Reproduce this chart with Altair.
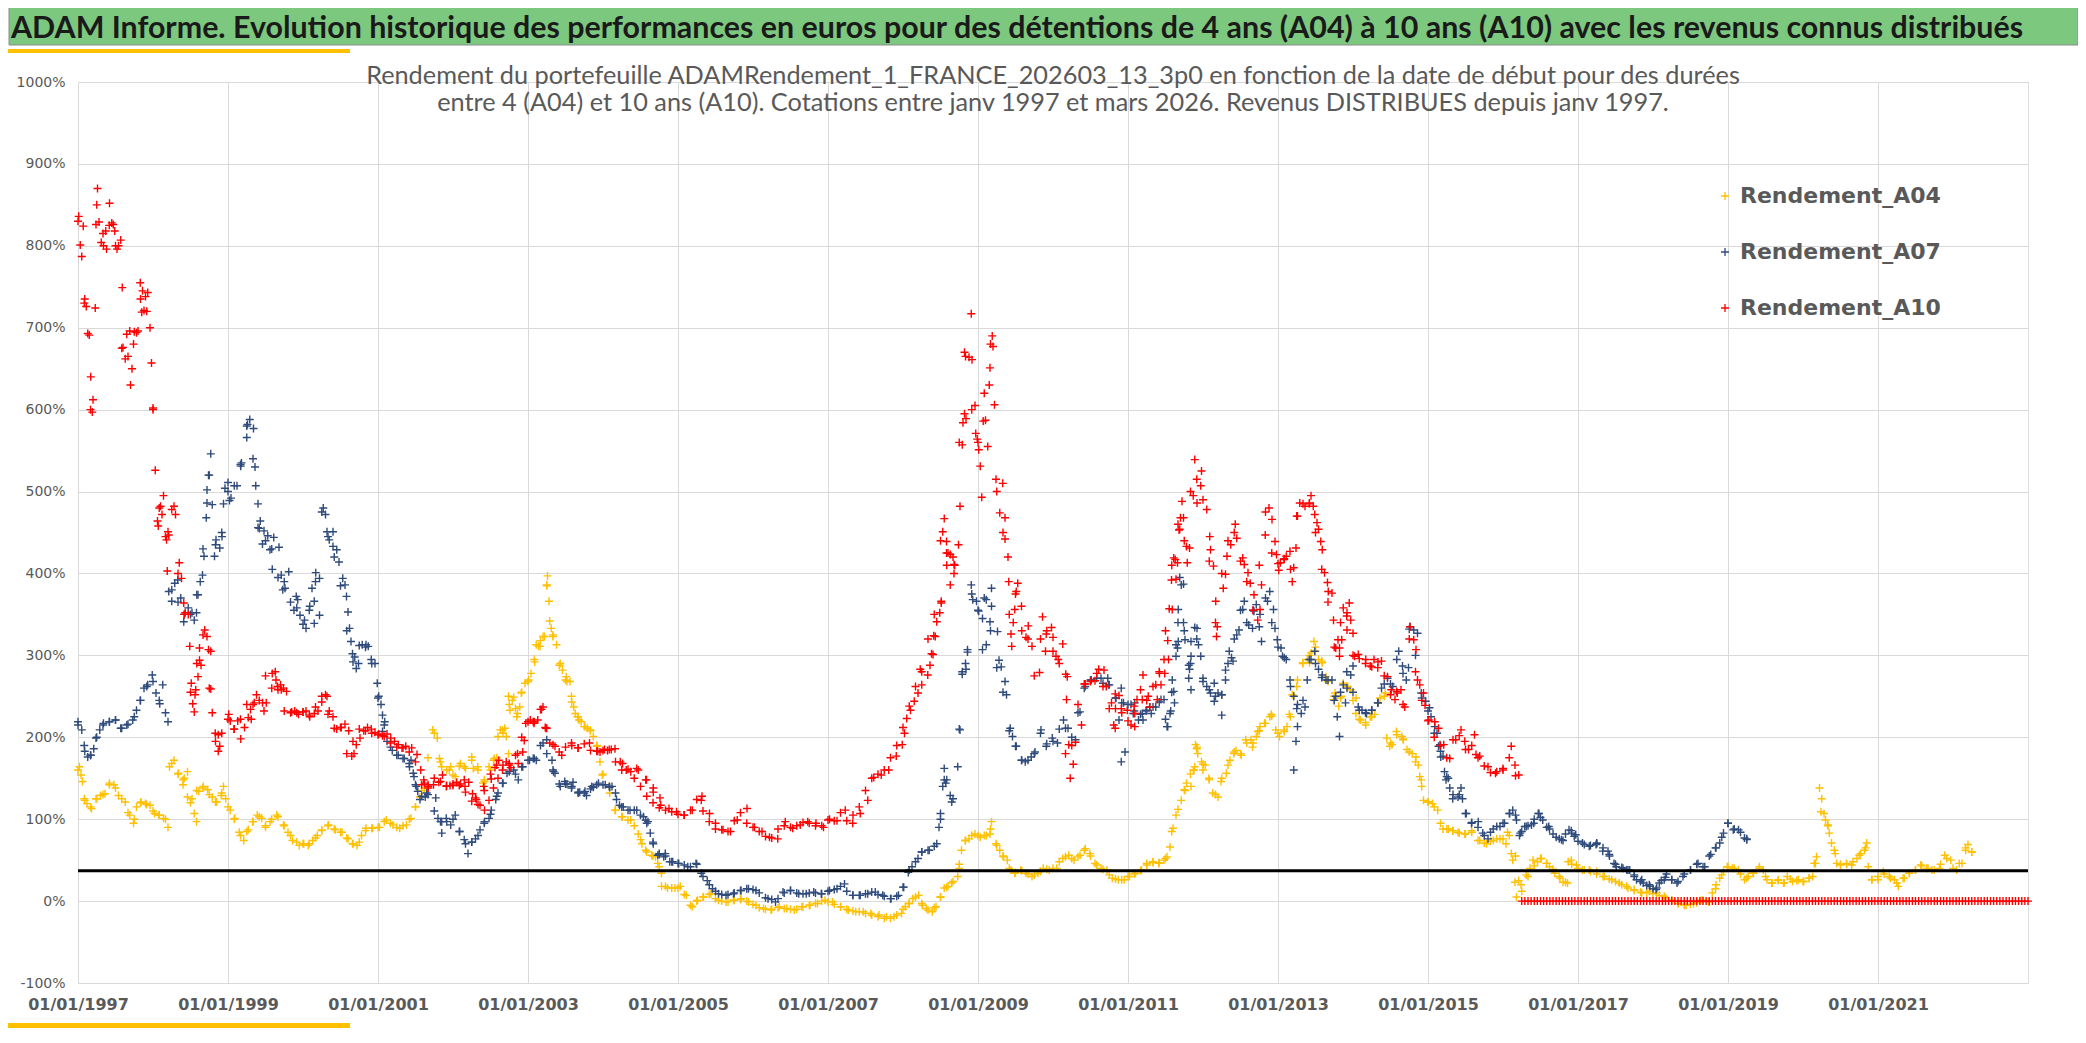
import altair as alt
import pandas as pd

# ---------------- data (values in %) ----------------
SERIES = ["Rendement_A04", "Rendement_A07", "Rendement_A10"]
COLORS = ["#FFC000", "#2F4B7C", "#FF0000"]
START_YEAR = 1997

# one value per month from Jan 1997
a04_vals = [
    160, 125, 115, 125, 130, 142, 138, 125, 108, 100, 120, 118,   # 1997
    110, 105, 100, 168, 155, 150, 120, 135, 138, 130, 121, 132,   # 1998
    115, 100, 80, 85, 97, 103, 92, 100, 103, 92, 80, 72,          # 1999
    70, 70, 77, 86, 92, 88, 84, 77, 70, 72, 86, 89,               # 2000
    90, 97, 95, 90, 92, 100, 115, 135, 175, 205, 170, 160,        # 2001
    154, 165, 162, 172, 160, 148, 160, 175, 205, 240, 235, 255,   # 2002
    268, 295, 318, 385, 325, 288, 270, 243, 225, 213, 208, 190,   # 2003
    155, 140, 111, 103, 99, 92, 75, 60, 55, 42, 18, 16,           # 2004
    16, 8, -5, 0, 5, 8, 3, 0, -1, 1, 2, 0,                        # 2005
    -4, -8, -10, -10, -8, -9, -10, -10, -7, -5, -3, 0,            # 2006
    -1, -4, -7, -10, -12, -13, -15, -17, -19, -21, -21, -17,      # 2007
    -10, -3, 5, -3, -11, -8, 5, 17, 24, 45, 74, 80,               # 2008
    80, 80, 88, 68, 55, 40, 35, 37, 33, 32, 36, 39,               # 2009
    40, 48, 54, 52, 54, 62, 55, 44, 39, 32, 27, 26,               # 2010
    30, 33, 37, 44, 47, 47, 52, 85, 112, 136, 155, 186,           # 2011
    167, 148, 130, 150, 166, 182, 180, 193, 193, 208, 217, 226,   # 2012
    205, 207, 225, 262, 290, 300, 310, 293, 268, 250, 248, 262,   # 2013
    245, 222, 218, 225, 242, 250, 193, 203, 198, 182, 170, 140,   # 2014
    121, 115, 95, 88, 86, 83, 82, 84, 74, 71, 73, 76,             # 2015
    76, 80, 55, 12, 30, 43, 52, 46, 39, 30, 23, 45,               # 2016
    40, 38, 36, 33, 30, 27, 24, 20, 16, 13, 11, 10,               # 2017
    9, 7, 4, 1, -3, -5, -4, -2, 1, -1, 15, 32,                    # 2018
    42, 40, 33, 28, 34, 40, 30, 22, 25, 22, 27, 25,               # 2019
    24, 28, 46, 125, 92, 62, 45, 45, 48, 56, 65, 26,              # 2020
    30, 33, 28, 22, 28, 34, 38, 43, 40, 38, 45, 52,               # 2021
    40, 46, 65, 60,                                               # 2022
]
a07_vals = [
    215, 190, 178, 200, 215, 219, 221, 211, 216, 225, 245, 262,   # 1997
    268, 245, 230, 380, 365, 350, 350, 374, 430, 520, 435, 450,   # 1998
    500, 507, 533, 580, 540, 455, 440, 430, 395, 390, 365, 358,   # 1999
    338, 355, 390, 475, 445, 420, 385, 330, 292, 312, 310, 290,   # 2000
    248, 215, 188, 178, 174, 168, 142, 128, 130, 110, 97, 97,     # 2001
    100, 85, 70, 72, 80, 95, 106, 128, 144, 158, 155, 164,        # 2002
    172, 174, 190, 180, 160, 143, 143, 140, 133, 132, 137, 142,   # 2003
    142, 140, 132, 115, 111, 111, 105, 95, 72, 57, 55, 48,        # 2004
    46, 44, 42, 45, 30, 20, 12, 8, 8, 10, 13, 15,                 # 2005
    14, 10, 4, 2, 3, 10, 13, 10, 9, 10, 10, 9,                    # 2006
    12, 14, 18, 12, 7, 7, 9, 11, 8, 6, 3, 6,                      # 2007
    17, 38, 48, 60, 62, 67, 100, 148, 125, 210, 290, 375,         # 2008
    355, 370, 330, 285, 255, 208, 189, 172, 172, 180, 205, 192,   # 2009
    195, 210, 211, 200, 230, 260, 270, 272, 266, 264, 248, 242,   # 2010
    240, 232, 228, 233, 237, 243, 222, 255, 340, 330, 290, 320,   # 2011
    268, 258, 250, 252, 290, 320, 355, 340, 355, 335, 370, 340,   # 2012
    310, 297, 262, 235, 245, 295, 290, 273, 270, 245, 255, 280,   # 2013
    255, 233, 230, 233, 242, 265, 265, 295, 278, 332, 300, 248,   # 2014
    232, 205, 183, 152, 130, 130, 107, 96, 90, 80, 84, 91,        # 2015
    95, 107, 105, 85, 92, 100, 102, 90, 82, 76, 82, 83,           # 2016
    73, 69, 68, 70, 65, 57, 45, 41, 38, 30, 24, 19,               # 2017
    15, 22, 29, 26, 24, 33, 38, 45, 42, 55, 65, 78,               # 2018
    95, 88, 84, 76,                                               # 2019
]
a10_vals = [
    830, 730, 600, 850, 815, 825, 800, 675, 665, 695, 735, 720,   # 1997
    600, 480, 445, 478, 400, 350, 255, 290, 325, 260, 195, 205,   # 1998
    222, 210, 222, 240, 240, 245, 275, 260, 258, 232, 230, 230,   # 1999
    231, 227, 237, 250, 228, 211, 212, 180, 195, 210, 208, 205,   # 2000
    203, 201, 193, 188, 187, 182, 170, 142, 142, 150, 146, 141,   # 2001
    143, 141, 133, 122, 118, 135, 155, 166, 166, 168, 178, 200,   # 2002
    219, 219, 234, 211, 191, 182, 188, 190, 187, 192, 184, 183,   # 2003
    184, 185, 170, 160, 161, 150, 140, 128, 120, 114, 111, 109,   # 2004
    106, 105, 111, 124, 110, 97, 88, 87, 85, 98, 108, 95,         # 2005
    90, 85, 79, 77, 88, 92, 90, 92, 96, 95, 92, 92,               # 2006
    99, 98, 108, 98, 105, 115, 135, 150, 155, 160, 175, 190,      # 2007
    212, 238, 262, 280, 320, 350, 440, 410, 420, 560, 665, 600,   # 2008
    560, 620, 680, 500, 450, 350, 375, 330, 320, 275, 320, 330,   # 2009
    305, 290, 180, 190, 240, 265, 268, 278, 262, 235, 235, 230,   # 2010
    220, 238, 258, 245, 262, 280, 330, 410, 460, 440, 500, 515,   # 2011
    490, 415, 340, 400, 440, 450, 415, 390, 355, 410, 475, 425,   # 2012
    412, 418, 405, 470, 485, 485, 450, 405, 365, 310, 340, 348,   # 2013
    300, 296, 290, 286, 292, 275, 252, 256, 240, 320, 280, 245,   # 2014
    220, 200, 190, 175, 197, 202, 185, 190, 175, 165, 157, 158,   # 2015
    162, 175, 153,                                                # 2016 (Jan-Mar)
]
# A10 after March 2016: a continuous run of 0 % markers, every half month up to Dec 2022
A10_ZERO_START = 2016.25
A10_ZERO_STEP = 1 / 24
a10_zero_vals = [
    0, 0, 0, 0, 0, 0, 0, 0, 0, 0, 0, 0, 0, 0, 0, 0, 0, 0,                           # 2016
    0, 0, 0, 0, 0, 0, 0, 0, 0, 0, 0, 0, 0, 0, 0, 0, 0, 0, 0, 0, 0, 0, 0, 0,         # 2017
    0, 0, 0, 0, 0, 0, 0, 0, 0, 0, 0, 0, 0, 0, 0, 0, 0, 0, 0, 0, 0, 0, 0, 0,         # 2018
    0, 0, 0, 0, 0, 0, 0, 0, 0, 0, 0, 0, 0, 0, 0, 0, 0, 0, 0, 0, 0, 0, 0, 0,         # 2019
    0, 0, 0, 0, 0, 0, 0, 0, 0, 0, 0, 0, 0, 0, 0, 0, 0, 0, 0, 0, 0, 0, 0, 0,         # 2020
    0, 0, 0, 0, 0, 0, 0, 0, 0, 0, 0, 0, 0, 0, 0, 0, 0, 0, 0, 0, 0, 0, 0, 0,         # 2021
    0, 0, 0, 0, 0, 0, 0, 0, 0, 0, 0, 0, 0, 0, 0, 0, 0, 0, 0, 0, 0, 0, 0, 0, 0,      # 2022
]

# individual markers: (date as decimal year, value %)
a04_readings = [
    (1997.02, 164), (1997.04, 154), (1997.06, 146), (1997.09, 123), (1997.12, 119), (1997.18, 113),
    (1997.24, 125), (1997.30, 129), (1997.36, 131), (1997.42, 144), (1997.48, 142), (1997.54, 129),
    (1997.63, 121), (1997.69, 105), (1997.74, 95), (1997.78, 115), (1997.84, 121), (1997.90, 119),
    (1997.96, 117), (1998.02, 107), (1998.08, 105), (1998.14, 101), (1998.20, 90), (1998.22, 164),
    (1998.28, 172), (1998.34, 156), (1998.40, 148), (1998.46, 158), (1998.40, 142), (1998.46, 127),
    (1998.52, 125), (1998.58, 97), (1998.55, 107), (1998.61, 134), (1998.67, 140), (1998.73, 136),
    (1998.79, 127), (1998.85, 121), (1998.91, 129), (1998.94, 140), (1998.97, 125), (1999.03, 111),
    (1999.09, 101), (1999.15, 84), (1999.21, 74), (1999.27, 87), (1999.33, 97), (1999.39, 105),
    (1999.45, 101), (1999.50, 90), (1999.56, 97), (1999.65, 105), (1999.74, 93), (1999.80, 84),
    (1999.86, 74), (1999.95, 68), (2000.01, 70), (2000.07, 68), (2000.13, 74), (2000.19, 80),
    (2000.25, 87), (2000.34, 93), (2000.43, 87), (2000.52, 84), (2000.60, 76), (2000.66, 70),
    (2000.72, 68), (2000.78, 80), (2000.84, 89), (2000.93, 89), (2001.02, 90), (2001.11, 99),
    (2001.20, 93), (2001.29, 89), (2001.38, 93), (2001.44, 101), (2001.50, 115), (2001.56, 127),
    (2001.62, 138), (2001.73, 209), (2001.79, 199), (2001.82, 174), (2001.85, 164), (2001.95, 160),
    (2001.97, 164), (2002.03, 152), (2002.10, 168), (2002.15, 164), (2002.25, 176), (2002.27, 162),
    (2002.33, 164), (2002.40, 144), (2002.42, 146), (2002.48, 164), (2002.54, 172), (2002.55, 174),
    (2002.60, 201), (2002.63, 209), (2002.66, 209), (2002.69, 211), (2002.71, 201), (2002.74, 180),
    (2002.76, 233), (2002.74, 250), (2002.79, 245), (2002.81, 249), (2002.85, 225), (2002.86, 229),
    (2002.89, 237), (2002.91, 254), (2002.96, 266), (2003.01, 270), (2003.04, 278), (2003.09, 292),
    (2003.11, 313), (2003.14, 311), (2003.16, 311), (2003.20, 323), (2003.22, 323), (2003.26, 397),
    (2003.25, 386), (2003.28, 366), (2003.29, 342), (2003.31, 333), (2003.33, 323), (2003.38, 313),
    (2003.43, 290), (2003.46, 282), (2003.51, 274), (2003.52, 268), (2003.56, 268), (2003.58, 250),
    (2003.61, 237), (2003.63, 229), (2003.66, 225), (2003.68, 221), (2003.71, 219), (2003.76, 213),
    (2003.79, 211), (2003.83, 209), (2003.87, 201), (2003.92, 189), (2003.96, 170), (2003.99, 154),
    (2004.09, 132), (2004.16, 111), (2004.26, 103), (2004.37, 99), (2004.47, 82), (2004.52, 70),
    (2004.57, 62), (2004.65, 56), (2004.70, 54), (2004.73, 46), (2004.78, 34), (2004.78, 18),
    (2004.86, 16), (2004.96, 16), (2005.03, 18), (2005.11, 7), (2005.19, -7), (2005.26, 1),
    (2005.34, 5), (2005.44, 9), (2005.54, 1), (2005.64, -1), (2005.74, 1), (2005.84, 3),
    (2005.94, -1), (2006.04, -5), (2006.14, -9), (2006.24, -11), (2006.35, -7), (2006.45, -9),
    (2006.55, -11), (2006.65, -7), (2006.76, -5), (2006.86, -3), (2006.96, 1), (2007.06, -1),
    (2007.17, -7), (2007.27, -11), (2007.37, -13), (2007.47, -13), (2007.57, -15), (2007.68, -17),
    (2007.78, -19), (2007.88, -19), (2007.98, -15), (2008.03, -7), (2008.08, -3), (2008.13, 3),
    (2008.21, 7), (2008.26, -5), (2008.31, -9), (2008.39, -13), (2008.44, -7), (2008.50, 5),
    (2008.55, 16), (2008.60, 18), (2008.65, 22), (2008.73, 30), (2008.75, 40), (2008.78, 62),
    (2008.83, 74), (2008.88, 76), (2008.96, 82), (2009.03, 78), (2009.11, 80), (2009.16, 82),
    (2009.18, 97), (2009.24, 70), (2009.29, 62), (2009.34, 54), (2009.39, 50), (2009.44, 38),
    (2009.49, 34), (2009.57, 38), (2009.64, 34), (2009.72, 30), (2009.80, 34), (2009.87, 40),
    (2009.95, 38), (2010.05, 40), (2010.13, 52), (2010.21, 56), (2010.28, 50), (2010.36, 56),
    (2010.43, 64), (2010.49, 58), (2010.56, 46), (2010.64, 40), (2010.72, 38), (2010.79, 28),
    (2010.87, 26), (2010.95, 26), (2011.02, 30), (2011.10, 34), (2011.18, 38), (2011.25, 46),
    (2011.33, 48), (2011.41, 46), (2011.48, 50), (2011.52, 54), (2011.56, 66), (2011.60, 89),
    (2011.64, 105), (2011.71, 123), (2011.76, 135), (2011.78, 144), (2011.84, 140), (2011.87, 160),
    (2011.89, 164), (2011.90, 191), (2011.92, 188), (2011.93, 180), (2011.98, 170), (2012.00, 160),
    (2011.88, 160), (2012.03, 166), (2012.08, 150), (2012.13, 132), (2012.20, 127), (2012.24, 146),
    (2012.31, 156), (2012.36, 172), (2012.41, 180), (2012.44, 184), (2012.51, 178), (2012.57, 197),
    (2012.64, 197), (2012.66, 188), (2012.71, 201), (2012.73, 207), (2012.76, 213), (2012.82, 217),
    (2012.89, 225), (2012.91, 228), (2012.97, 209), (2013.02, 201), (2013.08, 209), (2013.12, 213),
    (2013.15, 228), (2013.19, 252), (2013.21, 250), (2013.26, 270), (2013.33, 291), (2013.39, 295),
    (2013.42, 291), (2013.44, 303), (2013.48, 317), (2013.50, 305), (2013.54, 295), (2013.59, 291),
    (2013.64, 274), (2013.66, 270), (2013.74, 246), (2013.76, 254), (2013.81, 238), (2013.84, 250),
    (2013.87, 266), (2013.93, 262), (2013.97, 258), (2014.04, 248), (2014.04, 229), (2014.10, 221),
    (2014.17, 215), (2014.23, 225), (2014.29, 228), (2014.36, 248), (2014.43, 254), (2014.45, 199),
    (2014.49, 189), (2014.52, 191), (2014.58, 207), (2014.65, 201), (2014.67, 197), (2014.72, 185),
    (2014.79, 180), (2014.84, 176), (2014.87, 166), (2014.89, 152), (2014.91, 148), (2014.94, 123),
    (2015.00, 121), (2015.06, 119), (2015.13, 111), (2015.20, 88), (2015.27, 88), (2015.33, 86),
    (2015.40, 84), (2015.49, 82), (2015.58, 86), (2015.69, 74), (2015.78, 70), (2015.87, 74),
    (2015.96, 76), (2016.04, 70), (2016.06, 84), (2016.11, 58), (2016.13, 50), (2016.16, 23),
    (2016.18, 5), (2016.21, 25), (2016.24, 20), (2016.31, 32), (2016.36, 40), (2016.40, 50),
    (2016.46, 48), (2016.51, 52), (2016.58, 46), (2016.62, 42), (2016.69, 34), (2016.76, 28),
    (2016.80, 23), (2016.86, 22), (2016.87, 48), (2016.91, 50), (2016.98, 44), (2017.06, 38),
    (2017.15, 38), (2017.25, 36), (2017.35, 30), (2017.45, 26), (2017.55, 22), (2017.65, 18),
    (2017.75, 14), (2017.85, 10), (2017.95, 12), (2018.05, 10), (2018.15, 6), (2018.25, 1),
    (2018.34, -3), (2018.44, -5), (2018.54, -3), (2018.64, 1), (2018.74, -1), (2018.79, 10),
    (2018.84, 20), (2018.89, 28), (2018.94, 36), (2018.99, 42), (2019.06, 40), (2019.14, 38),
    (2019.22, 26), (2019.27, 30), (2019.34, 34), (2019.42, 42), (2019.47, 38), (2019.52, 26),
    (2019.59, 22), (2019.67, 26), (2019.74, 22), (2019.79, 30), (2019.86, 24), (2019.94, 26),
    (2020.01, 24), (2020.08, 28), (2020.13, 30), (2020.15, 46), (2020.18, 54), (2020.22, 138),
    (2020.24, 109), (2020.28, 107), (2020.30, 99), (2020.33, 93), (2020.35, 83), (2020.38, 71),
    (2020.43, 58), (2020.45, 46), (2020.50, 44), (2020.58, 46), (2020.65, 44), (2020.72, 52),
    (2020.77, 58), (2020.82, 62), (2020.85, 71), (2020.87, 42), (2020.92, 26), (2021.00, 26),
    (2021.07, 36), (2021.15, 30), (2021.22, 26), (2021.27, 18), (2021.35, 28), (2021.42, 34),
    (2021.50, 38), (2021.57, 44), (2021.65, 40), (2021.72, 38), (2021.82, 40), (2021.89, 56),
    (2021.97, 50), (2022.05, 38), (2022.12, 46), (2022.17, 62), (2022.20, 69), (2022.25, 60),
]
a07_readings = [
    (1997.00, 219), (1997.05, 209), (1997.09, 183), (1997.13, 176), (1997.17, 178), (1997.21, 186),
    (1997.24, 199), (1997.29, 209), (1997.34, 217), (1997.42, 219), (1997.50, 221), (1997.57, 211),
    (1997.65, 215), (1997.73, 221), (1997.78, 233), (1997.83, 245), (1997.88, 260), (1997.93, 264),
    (1997.99, 276), (1998.04, 254), (1998.09, 241), (1998.13, 264), (1998.20, 219), (1998.21, 378),
    (1998.25, 366), (1998.29, 388), (1998.33, 392), (1998.37, 370), (1998.41, 341), (1998.47, 358),
    (1998.52, 352), (1998.55, 343), (1998.58, 352), (1998.60, 374), (1998.63, 390), (1998.66, 398),
    (1998.68, 421), (1998.71, 468), (1998.72, 502), (1998.72, 486), (1998.74, 520), (1998.77, 546),
    (1998.79, 484), (1998.82, 421), (1998.84, 441), (1998.89, 431), (1998.92, 445), (1998.94, 485),
    (1998.96, 504), (1999.00, 511), (1999.02, 489), (1999.04, 492), (1999.12, 507), (1999.17, 531),
    (1999.18, 535), (1999.25, 566), (1999.26, 582), (1999.29, 588), (1999.34, 577), (1999.36, 530),
    (1999.37, 507), (1999.40, 485), (1999.43, 464), (1999.48, 452), (1999.40, 456), (1999.46, 436),
    (1999.53, 446), (1999.56, 429), (1999.61, 444), (1999.68, 432), (1999.59, 405), (1999.71, 398),
    (1999.81, 402), (1999.76, 382), (1999.73, 380), (1999.91, 372), (1999.93, 368), (1999.88, 355),
    (1999.96, 349), (2000.02, 343), (2000.04, 333), (2000.15, 339), (2000.09, 360), (2000.15, 366),
    (2000.12, 382), (2000.17, 401), (2000.22, 394), (2000.22, 349), (2000.27, 480), (2000.30, 472),
    (2000.32, 451), (2000.40, 451), (2000.35, 441), (2000.40, 433), (2000.45, 429), (2000.48, 414),
    (2000.53, 394), (2000.56, 386), (2000.58, 372), (2000.60, 353), (2000.62, 333), (2000.64, 317),
    (2000.66, 302), (2000.69, 298), (2000.74, 290), (2000.71, 284), (2000.79, 313), (2000.84, 313),
    (2000.87, 311), (2000.91, 295), (2000.96, 290), (2000.99, 266), (2001.01, 250), (2001.04, 240),
    (2001.06, 227), (2001.09, 219), (2001.06, 207), (2001.12, 195), (2001.19, 184), (2001.27, 178),
    (2001.35, 174), (2001.42, 164), (2001.44, 172), (2001.47, 156), (2001.48, 152), (2001.51, 140),
    (2001.53, 134), (2001.56, 124), (2001.63, 127), (2001.65, 132), (2001.77, 126), (2001.80, 101),
    (2001.85, 97), (2001.85, 83), (2001.91, 101), (2001.97, 93), (2002.03, 105), (2002.09, 85),
    (2002.15, 75), (2002.20, 58), (2002.25, 72), (2002.30, 76), (2002.36, 87), (2002.42, 97),
    (2002.48, 101), (2002.51, 111), (2002.57, 124), (2002.60, 132), (2002.66, 144), (2002.72, 156),
    (2002.81, 160), (2002.87, 148), (2002.93, 164), (2003.02, 172), (2003.07, 174), (2003.11, 172),
    (2003.20, 193), (2003.25, 197), (2003.32, 172), (2003.34, 158), (2003.36, 156), (2003.43, 140),
    (2003.49, 146), (2003.52, 143), (2003.58, 138), (2003.60, 145), (2003.67, 132), (2003.69, 133),
    (2003.76, 134), (2003.78, 129), (2003.85, 140), (2003.87, 139), (2003.94, 144), (2004.03, 142),
    (2004.09, 139), (2004.12, 140), (2004.18, 124), (2004.22, 117), (2004.27, 115), (2004.36, 111),
    (2004.45, 111), (2004.54, 103), (2004.57, 99), (2004.60, 97), (2004.63, 83), (2004.67, 70),
    (2004.73, 56), (2004.75, 58), (2004.81, 54), (2004.83, 58), (2004.89, 48), (2004.93, 48),
    (2005.01, 46), (2005.13, 42), (2005.24, 46), (2005.31, 34), (2005.39, 25), (2005.46, 15),
    (2005.54, 9), (2005.64, 7), (2005.74, 9), (2005.84, 13), (2005.94, 15), (2006.04, 13),
    (2006.20, 3), (2006.30, -1), (2006.40, 11), (2006.50, 13), (2006.61, 9), (2006.71, 9),
    (2006.81, 11), (2006.91, 9), (2007.02, 13), (2007.12, 15), (2007.22, 21), (2007.33, 7),
    (2007.43, 7), (2007.53, 9), (2007.63, 11), (2007.73, 7), (2007.84, 3), (2007.94, 7),
    (2008.01, 17), (2008.07, 35), (2008.12, 42), (2008.20, 52), (2008.25, 60), (2008.35, 62),
    (2008.45, 70), (2008.48, 90), (2008.50, 107), (2008.53, 140), (2008.55, 148), (2008.57, 144),
    (2008.63, 129), (2008.65, 121), (2008.55, 162), (2008.73, 164), (2008.76, 209), (2008.79, 277),
    (2008.79, 280), (2008.84, 283), (2008.86, 304), (2008.86, 307), (2008.91, 386), (2008.93, 368),
    (2008.98, 366), (2009.01, 354), (2009.06, 345), (2009.06, 307), (2009.11, 368), (2009.11, 313),
    (2009.16, 341), (2009.18, 382), (2009.18, 360), (2009.26, 329), (2009.28, 294), (2009.31, 286),
    (2009.36, 268), (2009.38, 252), (2009.43, 211), (2009.46, 201), (2009.51, 189), (2009.58, 172),
    (2009.63, 170), (2009.71, 176), (2009.76, 182), (2009.84, 209), (2009.91, 189), (2009.99, 199),
    (2010.06, 193), (2010.14, 221), (2010.20, 211), (2010.30, 197), (2010.36, 231), (2010.43, 262),
    (2010.51, 270), (2010.64, 272), (2010.73, 272), (2010.74, 264), (2010.84, 248), (2010.88, 221),
    (2010.91, 260), (2010.91, 170), (2010.94, 242), (2010.96, 182), (2011.04, 240), (2011.07, 229),
    (2011.09, 242), (2011.14, 221), (2011.19, 229), (2011.20, 221), (2011.24, 232), (2011.29, 237),
    (2011.31, 229), (2011.37, 237), (2011.44, 246), (2011.48, 246), (2011.52, 213), (2011.53, 213),
    (2011.56, 229), (2011.57, 232), (2011.59, 270), (2011.61, 256), (2011.62, 242), (2011.64, 313),
    (2011.64, 299), (2011.66, 309), (2011.67, 317), (2011.67, 356), (2011.69, 395), (2011.71, 386),
    (2011.74, 340), (2011.74, 387), (2011.76, 319), (2011.81, 288), (2011.81, 272), (2011.82, 283),
    (2011.84, 258), (2011.84, 299), (2011.84, 317), (2011.89, 334), (2011.92, 333), (2011.94, 313),
    (2011.97, 299), (2012.00, 272), (2012.05, 262), (2012.10, 254), (2012.15, 266), (2012.15, 244),
    (2012.20, 254), (2012.25, 252), (2012.25, 227), (2012.30, 282), (2012.30, 270), (2012.35, 305),
    (2012.38, 297), (2012.40, 293), (2012.45, 325), (2012.48, 331), (2012.53, 356), (2012.55, 366),
    (2012.61, 337), (2012.66, 333), (2012.68, 354), (2012.71, 362), (2012.76, 350), (2012.78, 317),
    (2012.86, 366), (2012.89, 378), (2012.94, 356), (2012.96, 333), (2012.99, 319), (2013.04, 309),
    (2013.06, 299), (2013.11, 295), (2013.16, 270), (2013.21, 250), (2013.26, 240), (2013.31, 229),
    (2013.26, 213), (2013.24, 195), (2013.21, 160), (2013.36, 237), (2013.39, 270), (2013.44, 295),
    (2013.49, 305), (2013.54, 283), (2013.59, 276), (2013.64, 270), (2013.72, 270), (2013.77, 250),
    (2013.79, 225), (2013.82, 201), (2013.87, 264), (2013.90, 242), (2013.92, 260), (2013.97, 276),
    (2014.00, 287), (2014.07, 237), (2014.12, 233), (2014.18, 229), (2014.25, 233), (2014.33, 242),
    (2014.38, 260), (2014.46, 272), (2014.53, 262), (2014.61, 305), (2014.66, 287), (2014.71, 270),
    (2014.74, 285), (2014.76, 335), (2014.81, 331), (2014.86, 327), (2014.91, 254), (2014.97, 244),
    (2015.02, 236), (2015.04, 225), (2015.09, 213), (2015.12, 205), (2015.14, 189), (2015.16, 191),
    (2015.17, 176), (2015.20, 177), (2015.22, 158), (2015.24, 148), (2015.27, 150), (2015.29, 138),
    (2015.33, 125), (2015.40, 127), (2015.44, 138), (2015.46, 125), (2015.51, 107), (2015.58, 95),
    (2015.67, 97), (2015.73, 83), (2015.80, 76), (2015.87, 88), (2015.96, 91), (2016.02, 95),
    (2016.09, 107), (2016.13, 111), (2016.18, 99), (2016.22, 80), (2016.23, 83), (2016.29, 91),
    (2016.31, 91), (2016.38, 93), (2016.41, 95), (2016.47, 107), (2016.48, 107), (2016.53, 99),
    (2016.61, 91), (2016.62, 88), (2016.71, 78), (2016.78, 75), (2016.80, 74), (2016.88, 87),
    (2016.91, 86), (2016.95, 79), (2016.97, 81), (2017.06, 71), (2017.15, 67), (2017.24, 69),
    (2017.25, 71), (2017.33, 61), (2017.40, 61), (2017.42, 55), (2017.48, 46), (2017.51, 42),
    (2017.60, 40), (2017.65, 38), (2017.69, 38), (2017.75, 32), (2017.78, 26), (2017.85, 26),
    (2017.87, 22), (2017.95, 20), (2017.96, 18), (2018.04, 14), (2018.05, 16), (2018.11, 25),
    (2018.15, 26), (2018.18, 33), (2018.25, 26), (2018.32, 22), (2018.40, 30), (2018.50, 38),
    (2018.60, 46), (2018.69, 42), (2018.77, 57), (2018.84, 65), (2018.89, 71), (2018.94, 83),
    (2019.00, 95), (2019.07, 87), (2019.14, 87), (2019.22, 77), (2019.25, 75),
]
a10_readings = [
    (1997.01, 836), (1997.03, 801), (1997.05, 787), (1997.07, 824), (1997.09, 735), (1997.11, 726),
    (1997.13, 693), (1997.15, 691), (1997.17, 640), (1997.20, 612), (1997.19, 597), (1997.23, 724),
    (1997.26, 870), (1997.28, 829), (1997.24, 826), (1997.31, 804), (1997.34, 800), (1997.37, 818),
    (1997.38, 796), (1997.42, 852), (1997.45, 828), (1997.47, 826), (1997.49, 818), (1997.52, 796),
    (1997.54, 800), (1997.57, 807), (1997.59, 749), (1997.60, 676), (1997.63, 662), (1997.65, 692),
    (1997.69, 696), (1997.70, 630), (1997.72, 650), (1997.74, 680), (1997.78, 694), (1997.80, 696),
    (1997.83, 755), (1997.85, 719), (1997.86, 745), (1997.88, 721), (1997.90, 738), (1997.93, 743),
    (1997.96, 700), (1997.98, 657), (1998.00, 602), (1998.03, 526), (1998.06, 464), (1998.07, 458),
    (1998.10, 482), (1998.12, 472), (1998.14, 495), (1998.18, 441), (1998.19, 403), (1998.20, 451),
    (1998.21, 447), (1998.28, 482), (1998.30, 472), (1998.35, 413), (1998.38, 394), (1998.41, 364),
    (1998.43, 352), (1998.47, 350), (1998.49, 311), (1998.51, 266), (1998.53, 241), (1998.55, 231),
    (1998.56, 252), (1998.57, 258), (1998.60, 274), (1998.62, 294), (1998.62, 309), (1998.64, 288),
    (1998.69, 331), (1998.72, 323), (1998.74, 307), (1998.77, 305), (1998.77, 259), (1998.79, 230),
    (1998.83, 205), (1998.87, 203), (1998.87, 183), (1998.89, 189), (1999.01, 228), (1999.03, 220),
    (1999.08, 210), (1999.13, 220), (1999.17, 198), (1999.22, 212), (1999.27, 224), (1999.30, 234),
    (1999.31, 222), (1999.35, 242), (1999.38, 252), (1999.46, 242), (1999.48, 232), (1999.51, 242),
    (1999.59, 278), (1999.63, 280), (1999.64, 270), (1999.66, 262), (1999.70, 264), (1999.71, 258),
    (1999.74, 260), (1999.78, 256), (1999.85, 231), (1999.89, 232), (1999.94, 228), (2000.00, 231),
    (2000.04, 232), (2000.09, 225), (2000.15, 229), (2000.20, 232), (2000.25, 243), (2000.30, 252),
    (2000.32, 250), (2000.35, 232), (2000.40, 225), (2000.45, 210), (2000.51, 212), (2000.56, 216),
    (2000.61, 208), (2000.65, 177), (2000.68, 180), (2000.71, 191), (2000.76, 199), (2000.81, 208),
    (2000.86, 212), (2000.91, 210), (2000.96, 206), (2001.01, 204), (2001.06, 202), (2001.12, 204),
    (2001.17, 199), (2001.22, 195), (2001.27, 191), (2001.32, 187), (2001.37, 189), (2001.45, 187),
    (2001.52, 179), (2001.57, 160), (2001.61, 148), (2001.62, 144), (2001.67, 140), (2001.67, 138),
    (2001.74, 142), (2001.81, 145), (2001.86, 154), (2001.91, 140), (2001.96, 141), (2002.00, 141),
    (2002.05, 145), (2002.10, 143), (2002.15, 148), (2002.16, 140), (2002.21, 145), (2002.26, 131),
    (2002.30, 126), (2002.31, 124), (2002.36, 117), (2002.41, 140), (2002.42, 111), (2002.48, 123),
    (2002.51, 149), (2002.54, 138), (2002.56, 163), (2002.60, 150), (2002.61, 172), (2002.66, 160),
    (2002.71, 170), (2002.75, 166), (2002.77, 163), (2002.86, 180), (2002.87, 168), (2002.93, 182),
    (2002.95, 196), (2002.97, 217), (2003.03, 221), (2003.07, 219), (2003.08, 217), (2003.13, 221),
    (2003.18, 234), (2003.20, 237), (2003.23, 212), (2003.24, 211), (2003.29, 193), (2003.36, 189),
    (2003.45, 178), (2003.58, 193), (2003.67, 187), (2003.82, 193), (2003.93, 183), (2003.96, 182),
    (2004.02, 185), (2004.06, 184), (2004.11, 185), (2004.16, 186), (2004.23, 170), (2004.26, 168),
    (2004.31, 160), (2004.37, 158), (2004.45, 162), (2004.47, 160), (2004.57, 148), (2004.58, 148),
    (2004.67, 138), (2004.67, 133), (2004.76, 126), (2004.77, 117), (2004.88, 113), (2004.98, 109),
    (2005.08, 105), (2005.19, 111), (2005.31, 123), (2005.32, 128), (2005.42, 107), (2005.50, 95),
    (2005.60, 87), (2005.70, 85), (2005.79, 99), (2005.92, 113), (2006.02, 90), (2006.12, 85),
    (2006.22, 78), (2006.33, 76), (2006.43, 97), (2006.53, 89), (2006.63, 93), (2006.73, 97),
    (2006.84, 95), (2006.94, 90), (2007.02, 100), (2007.12, 98), (2007.23, 111), (2007.33, 95),
    (2007.43, 107), (2007.53, 123), (2007.61, 151), (2007.71, 154), (2007.81, 160), (2007.91, 177),
    (2007.99, 191), (2008.02, 205), (2008.05, 223), (2008.10, 233), (2008.15, 244), (2008.20, 254),
    (2008.23, 283), (2008.25, 264), (2008.33, 276), (2008.36, 288), (2008.38, 302), (2008.40, 301),
    (2008.41, 324), (2008.43, 323), (2008.45, 341), (2008.49, 352), (2008.51, 366), (2008.51, 364),
    (2008.53, 451), (2008.55, 467), (2008.58, 425), (2008.58, 439), (2008.60, 425), (2008.63, 386),
    (2008.63, 423), (2008.68, 400), (2008.68, 411), (2008.69, 410), (2008.74, 435), (2008.76, 482),
    (2008.79, 557), (2008.80, 584), (2008.82, 595), (2008.82, 670), (2008.84, 589), (2008.88, 664),
    (2008.91, 717), (2008.92, 661), (2008.96, 605), (2008.97, 571), (2008.99, 564), (2009.01, 551),
    (2009.03, 531), (2009.05, 493), (2009.07, 586), (2009.10, 587), (2009.13, 555), (2009.15, 630),
    (2009.16, 651), (2009.19, 690), (2009.20, 677), (2009.22, 606), (2009.24, 515), (2009.29, 474),
    (2009.33, 510), (2009.36, 468), (2009.36, 442), (2009.40, 420), (2009.41, 390), (2009.44, 326),
    (2009.45, 311), (2009.47, 340), (2009.49, 356), (2009.51, 378), (2009.53, 388), (2009.58, 360),
    (2009.64, 322), (2009.67, 336), (2009.72, 311), (2009.82, 279), (2009.86, 347), (2009.90, 305),
    (2009.91, 326), (2009.98, 334), (2010.00, 322), (2010.04, 299), (2010.07, 295), (2010.13, 314),
    (2010.17, 277), (2010.18, 246), (2010.19, 274), (2010.21, 191), (2010.23, 150), (2010.27, 167),
    (2010.30, 194), (2010.38, 215), (2010.43, 265), (2010.56, 269), (2010.61, 283), (2010.68, 282),
    (2010.71, 262), (2010.78, 242), (2010.81, 215), (2010.83, 253), (2010.83, 211), (2010.88, 251),
    (2010.91, 235), (2010.99, 233), (2011.04, 215), (2011.09, 229), (2011.09, 213), (2011.12, 246),
    (2011.19, 246), (2011.20, 276), (2011.27, 250), (2011.29, 237), (2011.37, 264), (2011.39, 246),
    (2011.42, 278), (2011.44, 264), (2011.48, 295), (2011.49, 278), (2011.53, 318), (2011.54, 295),
    (2011.55, 357), (2011.58, 392), (2011.59, 356), (2011.61, 419), (2011.63, 417), (2011.64, 393),
    (2011.66, 413), (2011.68, 453), (2011.69, 454), (2011.70, 468), (2011.72, 488), (2011.74, 468),
    (2011.78, 433), (2011.79, 413), (2011.82, 431), (2011.87, 495), (2011.89, 539), (2011.92, 486),
    (2011.97, 507), (2011.98, 525), (2012.05, 478), (2012.09, 445), (2012.10, 429), (2012.14, 409),
    (2012.17, 366), (2012.18, 323), (2012.19, 335), (2012.27, 382), (2012.30, 399), (2012.32, 421),
    (2012.37, 435), (2012.43, 460), (2012.45, 443), (2012.53, 419), (2012.55, 411), (2012.60, 401),
    (2012.63, 388), (2012.68, 374), (2012.73, 343), (2012.76, 356), (2012.78, 386), (2012.83, 447),
    (2012.88, 480), (2012.92, 466), (2012.96, 439), (2012.98, 423), (2013.01, 404), (2013.03, 413),
    (2013.08, 417), (2013.11, 421), (2013.16, 427), (2013.19, 390), (2013.21, 407), (2013.24, 431),
    (2013.26, 470), (2013.29, 486), (2013.36, 482), (2013.42, 486), (2013.44, 495), (2013.47, 482),
    (2013.49, 472), (2013.52, 462), (2013.54, 454), (2013.57, 439), (2013.59, 429), (2013.62, 401),
    (2013.66, 389), (2013.67, 378), (2013.72, 376), (2013.74, 343), (2013.77, 309), (2013.80, 319),
    (2013.82, 309), (2013.82, 299), (2013.85, 319), (2013.87, 358), (2013.92, 352), (2013.92, 331),
    (2013.95, 364), (2013.97, 343), (2014.00, 327), (2014.02, 299), (2014.07, 301), (2014.17, 295),
    (2014.23, 287), (2014.28, 295), (2014.33, 285), (2014.38, 293), (2014.46, 274), (2014.51, 258),
    (2014.56, 246), (2014.59, 254), (2014.64, 258), (2014.69, 237), (2014.76, 335), (2014.81, 319),
    (2014.84, 307), (2014.86, 270), (2014.89, 264), (2014.94, 254), (2014.96, 239), (2015.01, 221),
    (2015.09, 219), (2015.14, 211), (2015.21, 191), (2015.29, 174), (2015.37, 197), (2015.44, 209),
    (2015.49, 195), (2015.54, 185), (2015.62, 203), (2015.64, 179), (2015.69, 177), (2015.80, 164),
    (2015.90, 156), (2016.00, 160), (2016.11, 189), (2016.16, 166), (2016.21, 154),
]

threshold = [37]
title_text = ("ADAM Informe. Evolution historique des performances en euros pour des détentions "
              "de 4 ans (A04) à 10 ans (A10) avec les revenus connus distribués")
subtitle_1 = ("Rendement du portefeuille ADAMRendement_1_FRANCE_202603_13_3p0 en fonction de la "
              "date de début pour des durées")
subtitle_2 = ("entre 4 (A04) et 10 ans (A10). Cotations entre janv 1997 et mars 2026. "
              "Revenus DISTRIBUES depuis janv 1997.")
x_ticks = list(range(1997, 2022, 2))
y_ticks = list(range(-100, 1001, 100))

# ---------------- table ----------------
rows = []
for name, vals, readings in [
    (SERIES[0], a04_vals, a04_readings),
    (SERIES[1], a07_vals, a07_readings),
    (SERIES[2], a10_vals, a10_readings),
]:
    for i, v in enumerate(vals):
        rows.append({"date": START_YEAR + i / 12.0, "rendement": v, "serie": name})
    for xx, yy in readings:
        rows.append({"date": xx, "rendement": yy, "serie": name})
    if name == SERIES[2]:
        for i, v in enumerate(a10_zero_vals):
            rows.append({"date": A10_ZERO_START + i * A10_ZERO_STEP, "rendement": v, "serie": name})
df = pd.DataFrame(rows)

PLUS = "M-1,0L1,0M0,-1L0,1"
W, H = 1950, 901
GRID = "#D9D9D9"
GREY = "#595959"

x_enc = alt.X("date:Q",
              scale=alt.Scale(domain=[1997, 2023], nice=False, zero=False),
              axis=alt.Axis(values=x_ticks, labelExpr="'01/01/' + datum.value", title=None,
                            grid=True, gridColor=GRID, ticks=False, tickSize=0, domain=False,
                            labelFont="DejaVu Sans", labelFontWeight="bold", labelFontSize=16,
                            labelColor=GREY, labelPadding=13, labelFlush=False))
y_axis = alt.Axis(values=y_ticks, labelExpr="datum.value + '%'", title=None,
                  grid=True, gridColor=GRID, ticks=False, tickSize=0, domain=False,
                  labelFont="DejaVu Sans", labelFontSize=14, labelColor=GREY,
                  labelPadding=13)
y_scale = alt.Scale(domain=[-100, 1000], nice=False, zero=False)

points = alt.Chart(df).mark_point(shape=PLUS, filled=False, size=64, strokeWidth=1.4,
                                  opacity=1).encode(
    x=x_enc,
    y=alt.Y("rendement:Q", scale=y_scale, axis=y_axis),
    color=alt.Color("serie:N",
                    scale=alt.Scale(domain=SERIES, range=COLORS),
                    legend=alt.Legend(title=None, orient="none", legendX=1636, legendY=103,
                                      symbolType=PLUS, symbolSize=64, symbolStrokeWidth=1.3,
                                      labelFont="DejaVu Sans", labelFontSize=22,
                                      labelFontWeight="bold", labelColor=GREY, labelLimit=600,
                                      rowPadding=34, labelOffset=4, padding=0)),
)

rule = alt.Chart(pd.DataFrame({"rendement": threshold})).mark_rule(
    color="black", strokeWidth=3).encode(
    y=alt.Y("rendement:Q", scale=y_scale, axis=y_axis))

one = pd.DataFrame({"k": [0]})
green_bar = alt.Chart(one).mark_rect(color="#7DC87F", stroke="#8C8C8C", strokeWidth=1).encode(
    x=alt.value(-69), x2=alt.value(2000), y=alt.value(-75), y2=alt.value(-37))
yellow_top = alt.Chart(one).mark_rect(color="#FFC000").encode(
    x=alt.value(-70), x2=alt.value(272), y=alt.value(-33), y2=alt.value(-29))
yellow_bot = alt.Chart(one).mark_rect(color="#FFC000").encode(
    x=alt.value(-70), x2=alt.value(272), y=alt.value(941), y2=alt.value(946))
title = alt.Chart(one).mark_text(align="left", baseline="middle", font="Lato", fontSize=30.4,
                                 fontWeight="bold", color="#1A1A1A").encode(
    x=alt.value(-67), y=alt.value(-53), text=alt.value(title_text))
sub1 = alt.Chart(one).mark_text(align="center", baseline="middle", font="Lato", fontSize=25.3,
                                color=GREY).encode(
    x=alt.value(975), y=alt.value(-6), text=alt.value(subtitle_1))
sub2 = alt.Chart(one).mark_text(align="center", baseline="middle", font="Lato", fontSize=25.3,
                                color=GREY).encode(
    x=alt.value(975), y=alt.value(21), text=alt.value(subtitle_2))

chart = alt.layer(green_bar, yellow_top, yellow_bot, points, rule, title, sub1, sub2).properties(
    width=W, height=H,
    autosize=alt.AutoSizeParams(type="none"),
    padding={"left": 70, "top": 74, "right": 50, "bottom": 45},
).configure_view(stroke=None).configure(background="white")

chart.save("out.html", embed_options={"renderer": "svg", "actions": False})
